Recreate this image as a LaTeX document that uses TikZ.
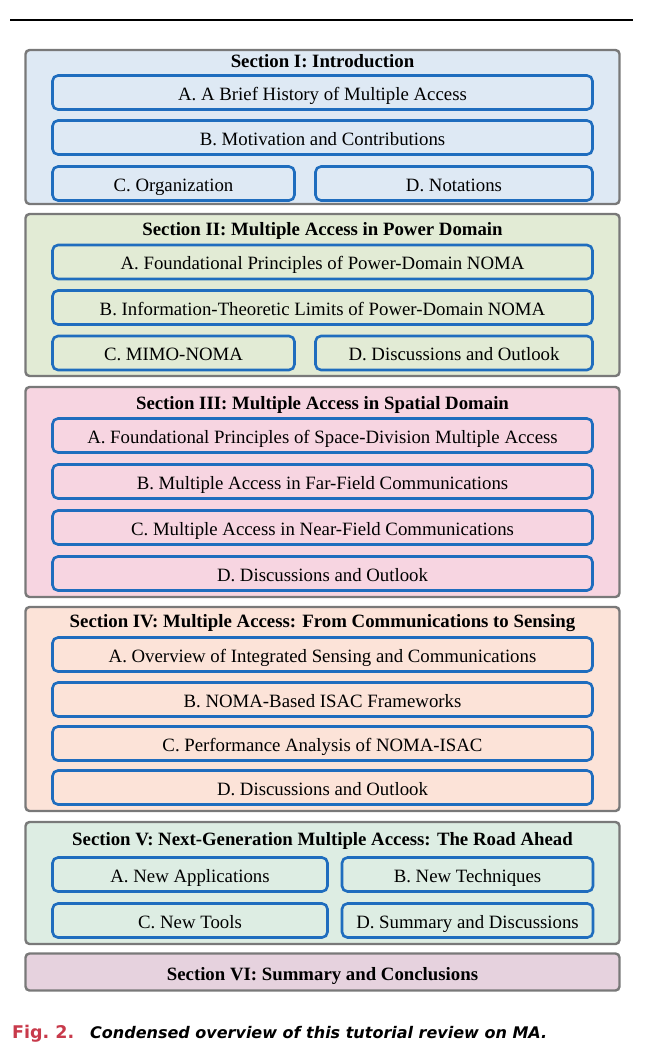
\documentclass[tikz,border=0pt]{standalone}
\usepackage{fontspec}
\setmainfont{Liberation Serif}
\newfontfamily\capfont{DejaVu Sans}
\begin{document}
\begin{tikzpicture}[x=1pt,y=-1pt,
  secbox/.style={draw=gray!95!black, line width=2.4pt, rounded corners=4pt, inner sep=0pt},
  subbox/.style={draw=subblue, line width=2.6pt, rounded corners=5.5pt, inner sep=0pt, minimum height=34pt, text height=15pt, text depth=0pt, font=\fontsize{18.8}{21}\selectfont},
  sectitle/.style={inner sep=0pt, text height=14pt, text depth=0pt, font=\fontsize{18.8}{21}\selectfont\bfseries},
  captext/.style={inner sep=0pt, anchor=base west},
]
\definecolor{subblue}{HTML}{1F6DBE}
\definecolor{cI}{HTML}{DEE9F4}
\definecolor{cII}{HTML}{E2EBD5}
\definecolor{cIII}{HTML}{F7D5E1}
\definecolor{cIV}{HTML}{FCE3D8}
\definecolor{cV}{HTML}{DDEDE3}
\definecolor{cVI}{HTML}{E6D2DE}
\definecolor{figred}{HTML}{C83A4B}
\useasboundingbox (0,0) rectangle (650,1055);
\coordinate (l1) at (10,20);
\coordinate (l2) at (633,20);
\draw[line width=2pt] (l1) -- (l2);
% Section I
\node[secbox, fill=cI, minimum width=594pt, minimum height=154pt] (s1) at (322.5,127) {};
\node[sectitle] (t1) at (322.5,60) {Section I: Introduction};
\node[subbox, fill=cI, minimum width=540pt] (s1a) at (322.5,92.5) {A. A Brief History of Multiple Access};
\node[subbox, fill=cI, minimum width=540pt] (s1b) at (322.5,137.5) {B. Motivation and Contributions};
\node[subbox, fill=cI, minimum width=242pt] (s1c) at (173.5,183.5) {C. Organization};
\node[subbox, fill=cI, minimum width=277pt] (s1d) at (454,183.5) {D. Notations};
% Section II
\node[secbox, fill=cII, minimum width=594pt, minimum height=162pt] (s2) at (322.5,295) {};
\node[sectitle] (t2) at (322.5,228) {Section II: Multiple Access in Power Domain};
\node[subbox, fill=cII, minimum width=540pt] (s2a) at (322.5,262) {A. Foundational Principles of Power-Domain NOMA};
\node[subbox, fill=cII, minimum width=540pt] (s2b) at (322.5,307.5) {B. Information-Theoretic Limits of Power-Domain NOMA};
\node[subbox, fill=cII, minimum width=242pt] (s2c) at (173.5,353) {C. MIMO-NOMA};
\node[subbox, fill=cII, minimum width=277pt] (s2d) at (454,353) {D. Discussions and Outlook};
% Section III
\node[secbox, fill=cIII, minimum width=594pt, minimum height=210pt] (s3) at (322.5,492) {};
\node[sectitle] (t3) at (322.5,402) {Section III: Multiple Access in Spatial Domain};
\node[subbox, fill=cIII, minimum width=540pt] (s3a) at (322.5,435.5) {A. Foundational Principles of Space-Division Multiple Access};
\node[subbox, fill=cIII, minimum width=540pt] (s3b) at (322.5,481.5) {B. Multiple Access in Far-Field Communications};
\node[subbox, fill=cIII, minimum width=540pt] (s3c) at (322.5,527.5) {C. Multiple Access in Near-Field Communications};
\node[subbox, fill=cIII, minimum width=540pt] (s3d) at (322.5,573.5) {D. Discussions and Outlook};
% Section IV
\node[secbox, fill=cIV, minimum width=594pt, minimum height=204pt] (s4) at (322.5,709) {};
\node[sectitle] (t4) at (322.5,620) {Section IV: Multiple Access: From Communications to Sensing};
\node[subbox, fill=cIV, minimum width=540pt] (s4a) at (322.5,654.5) {A. Overview of Integrated Sensing and Communications};
\node[subbox, fill=cIV, minimum width=540pt] (s4b) at (322.5,699.5) {B. NOMA-Based ISAC Frameworks};
\node[subbox, fill=cIV, minimum width=540pt] (s4c) at (322.5,743.5) {C. Performance Analysis of NOMA-ISAC};
\node[subbox, fill=cIV, minimum width=540pt] (s4d) at (322.5,787.5) {D. Discussions and Outlook};
% Section V
\node[secbox, fill=cV, minimum width=594pt, minimum height=122pt] (s5) at (322.5,883) {};
\node[sectitle] (t5) at (322.5,838) {Section V: Next-Generation Multiple Access: The Road Ahead};
\node[subbox, fill=cV, minimum width=275pt] (s5a) at (190,874.5) {A. New Applications};
\node[subbox, fill=cV, minimum width=251pt] (s5b) at (467.5,874.5) {B. New Techniques};
\node[subbox, fill=cV, minimum width=275pt] (s5c) at (190,920.5) {C. New Tools};
\node[subbox, fill=cV, minimum width=251pt] (s5d) at (467.5,920.5) {D. Summary and Discussions};
% Section VI
\node[secbox, fill=cVI, minimum width=594pt, minimum height=37pt, sectitle, text height=16pt] (s6) at (322.5,972) {Section VI: Summary and Conclusions};
% Caption
\node[captext, text=figred, font=\capfont\bfseries\fontsize{17.5}{20}\selectfont] (fig) at (12,1038) {Fig.~2.};
\node[captext, font=\capfont\bfseries\itshape\fontsize{16}{18}\selectfont] (cap) at (90,1038) {Condensed overview of this tutorial review on MA.};
\end{tikzpicture}
\end{document}
